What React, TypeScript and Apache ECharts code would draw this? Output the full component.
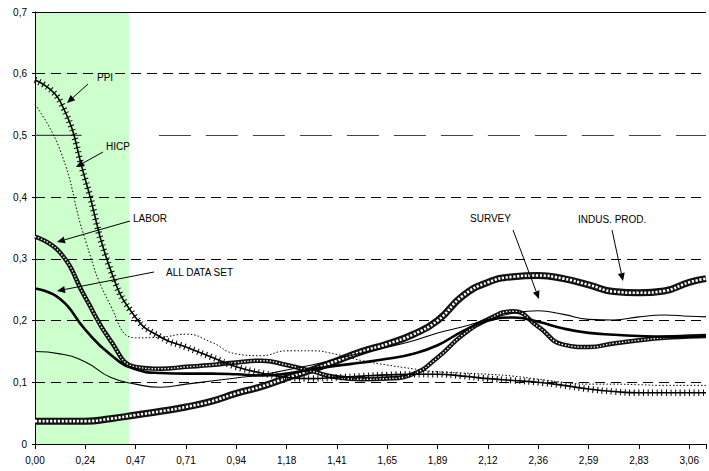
import { useEffect, useRef } from 'react';
import * as echarts from 'echarts';

// ---------- data ----------
const FREQ = [0, 0.118, 0.236, 0.353, 0.471, 0.589, 0.707, 0.825, 0.942, 1.06, 1.178, 1.296, 1.414, 1.532,
  1.649, 1.767, 1.885, 2.003, 2.121, 2.238, 2.356, 2.474, 2.592, 2.71, 2.827, 2.945, 3.063, 3.1416];

const PPI = [0.59, 0.555, 0.428, 0.283, 0.205, 0.173, 0.157, 0.141, 0.125, 0.115, 0.108, 0.106, 0.108, 0.11,
  0.112, 0.113, 0.113, 0.11, 0.106, 0.103, 0.1, 0.095, 0.089, 0.085, 0.083, 0.083, 0.083, 0.083];
const HICP = [0.55, 0.476, 0.33, 0.225, 0.172, 0.173, 0.178, 0.165, 0.146, 0.143, 0.151, 0.151, 0.145, 0.135,
  0.128, 0.122, 0.117, 0.115, 0.113, 0.11, 0.105, 0.1, 0.097, 0.097, 0.096, 0.095, 0.095, 0.095];
const LABOR = [0.336, 0.31, 0.237, 0.168, 0.125, 0.122, 0.125, 0.128, 0.132, 0.135, 0.128, 0.118, 0.108, 0.105,
  0.106, 0.113, 0.14, 0.177, 0.202, 0.215, 0.19, 0.161, 0.157, 0.163, 0.168, 0.172, 0.174, 0.175];
const ALL_DATA = [0.252, 0.235, 0.185, 0.145, 0.121, 0.115, 0.114, 0.114, 0.113, 0.111, 0.114, 0.121, 0.127, 0.132,
  0.138, 0.146, 0.16, 0.183, 0.2, 0.205, 0.198, 0.187, 0.18, 0.177, 0.175, 0.174, 0.174, 0.175];
const SURVEY = [0.15, 0.146, 0.133, 0.108, 0.097, 0.092, 0.097, 0.102, 0.107, 0.112, 0.12, 0.128, 0.138, 0.148,
  0.157, 0.167, 0.18, 0.19, 0.202, 0.212, 0.216, 0.21, 0.202, 0.201, 0.206, 0.209, 0.207, 0.206];
const INDUS = [0.037, 0.037, 0.037, 0.041, 0.047, 0.053, 0.06, 0.069, 0.082, 0.093, 0.107, 0.12, 0.135, 0.15,
  0.162, 0.177, 0.2, 0.24, 0.262, 0.271, 0.273, 0.268, 0.258, 0.247, 0.245, 0.248, 0.262, 0.268];

const X_LABELS = ['0,00', '0,24', '0,47', '0,71', '0,94', '1,18', '1,41', '1,65', '1,89', '2,12', '2,36', '2,59', '2,83', '3,06'];
const Y_LABELS = ['0', '0,1', '0,2', '0,3', '0,4', '0,5', '0,6', '0,7'];
const GRID_VALUES = [0.1, 0.2, 0.3, 0.4, 0.6, 0.7];
const THRESHOLD = 0.5;
const THRESHOLD_SOLID = [0, 0.218];
const THRESHOLD_DASHED = [0.58, Math.PI];
const BAND_END = 0.44;
const X_STEP = (Math.PI * 3) / 40;

const FONT = '"Liberation Sans", Arial, sans-serif';

function pts(ys: number[]) {
  return FREQ.map((x, i) => [x, ys[i]]);
}

function arrow(sx: number, sy: number, tx: number, ty: number) {
  const dx = tx - sx, dy = ty - sy;
  const L = Math.hypot(dx, dy);
  const ux = dx / L, uy = dy / L;
  const h = 8, w = 3.5;
  const bx = tx - ux * h, by = ty - uy * h;
  return [
    { type: 'line', shape: { x1: sx, y1: sy, x2: bx, y2: by }, style: { stroke: '#000', lineWidth: 1 }, silent: true, z: 100 },
    {
      type: 'polygon',
      shape: { points: [[tx, ty], [bx - uy * w, by + ux * w], [bx + uy * w, by - ux * w]] },
      style: { fill: '#000' }, silent: true, z: 100,
    },
  ];
}

function label(text: string, x: number, y: number) {
  return {
    type: 'text', x, y, silent: true, z: 100,
    style: { text, fontSize: 10, fontFamily: FONT, fill: '#000', verticalAlign: 'middle' },
  };
}

const base = { type: 'line', smooth: 0.5, showSymbol: false, symbol: 'none', silent: true };

const option: any = {
  animation: false,
  backgroundColor: '#fff',
  grid: { left: 35, top: 12, width: 677, height: 432 },
  xAxis: {
    type: 'value', min: 0, max: Math.PI, interval: X_STEP,
    axisLine: { show: true, lineStyle: { color: '#000', width: 1 } },
    axisTick: { show: true, length: 5, lineStyle: { color: '#000' } },
    splitLine: { show: false },
    axisLabel: {
      margin: 11, fontSize: 10, fontFamily: FONT, color: '#000',
      formatter: (v: number) => {
        const i = Math.round(v / X_STEP);
        return Math.abs(i * X_STEP - v) < 1e-6 && i < X_LABELS.length ? X_LABELS[i] : '';
      },
    },
  },
  yAxis: {
    type: 'value', min: 0, max: 0.7, interval: 0.1,
    axisLine: { show: true, lineStyle: { color: '#000', width: 1 } },
    axisTick: { show: true, length: 3, lineStyle: { color: '#000' } },
    splitLine: { show: false },
    axisLabel: {
      margin: 8, fontSize: 10, fontFamily: FONT, color: '#000',
      formatter: (v: number) => Y_LABELS[Math.round(v * 10)] ?? '',
    },
  },
  series: [
    {
      ...base, name: 'frame', data: [],
      markArea: { silent: true, z: 0, itemStyle: { color: '#ccffcc' }, data: [[{ xAxis: 0 }, { xAxis: BAND_END }]] },
      markLine: {
        silent: true, z: 1, symbol: 'none', label: { show: false },
        lineStyle: { type: [10, 6], color: '#000', width: 1 },
        data: [
          ...GRID_VALUES.map((v) => ({ yAxis: v, lineStyle: { type: v === 0.7 ? 'solid' : [10, 6], color: '#000', width: 1 } })),
          [
            { xAxis: THRESHOLD_DASHED[0], yAxis: THRESHOLD, lineStyle: { type: [32, 15], color: '#444', width: 1.2 } },
            { xAxis: THRESHOLD_DASHED[1], yAxis: THRESHOLD },
          ],
        ],
      },
    },
    {
      ...base, smooth: false, name: 'threshold', z: 3,
      data: THRESHOLD_SOLID.map((x) => [x, THRESHOLD]),
      lineStyle: { type: 'solid', color: '#444', width: 1.2 },
    },
    { ...base, name: 'INDUS. PROD.', data: pts(INDUS), lineStyle: { color: '#111', width: 7 } },
    { ...base, name: 'INDUS. PROD. inner', data: pts(INDUS), lineStyle: { color: '#fff', width: 2.6, type: [2.2, 1.6] } },
    { ...base, name: 'LABOR', data: pts(LABOR), lineStyle: { color: '#111', width: 4.5 } },
    { ...base, name: 'LABOR inner', data: pts(LABOR), lineStyle: { color: '#fff', width: 1.4, type: [1.4, 1.8] } },
    { ...base, name: 'PPI marks', data: pts(PPI), lineStyle: { color: '#000', width: 6.5, type: [1, 3.6] } },
    { ...base, name: 'PPI', data: pts(PPI), lineStyle: { color: '#000', width: 1.6 } },
    { ...base, name: 'ALL DATA SET', data: pts(ALL_DATA), lineStyle: { color: '#000', width: 2.6 } },
    { ...base, name: 'SURVEY', data: pts(SURVEY), lineStyle: { color: '#000', width: 1.1 } },
    { ...base, name: 'HICP', data: pts(HICP), lineStyle: { color: '#000', width: 1, type: [1.5, 2] } },
  ],
  graphic: [
    label('PPI', 97, 77),
    ...arrow(88, 84, 67, 103),
    label('HICP', 106, 146),
    ...arrow(103, 152, 76, 167),
    label('LABOR', 133, 218),
    ...arrow(130, 221, 57, 242),
    label('ALL DATA SET', 166, 272),
    ...arrow(154, 272, 57, 291),
    label('SURVEY', 470, 218),
    ...arrow(513, 230, 539, 299),
    label('INDUS. PROD.', 578, 219),
    ...arrow(612, 230, 623, 281),
  ],
};

export default function App() {
  const ref = useRef<HTMLDivElement>(null);
  useEffect(() => {
    const chart = echarts.init(ref.current!, null, { renderer: 'svg' });
    chart.setOption(option);
    return () => chart.dispose();
  }, []);
  return (
    <div
      ref={ref}
      style={{ position: 'absolute', left: 0, top: 0, width: 709, height: 471, background: '#fff' }}
    />
  );
}
